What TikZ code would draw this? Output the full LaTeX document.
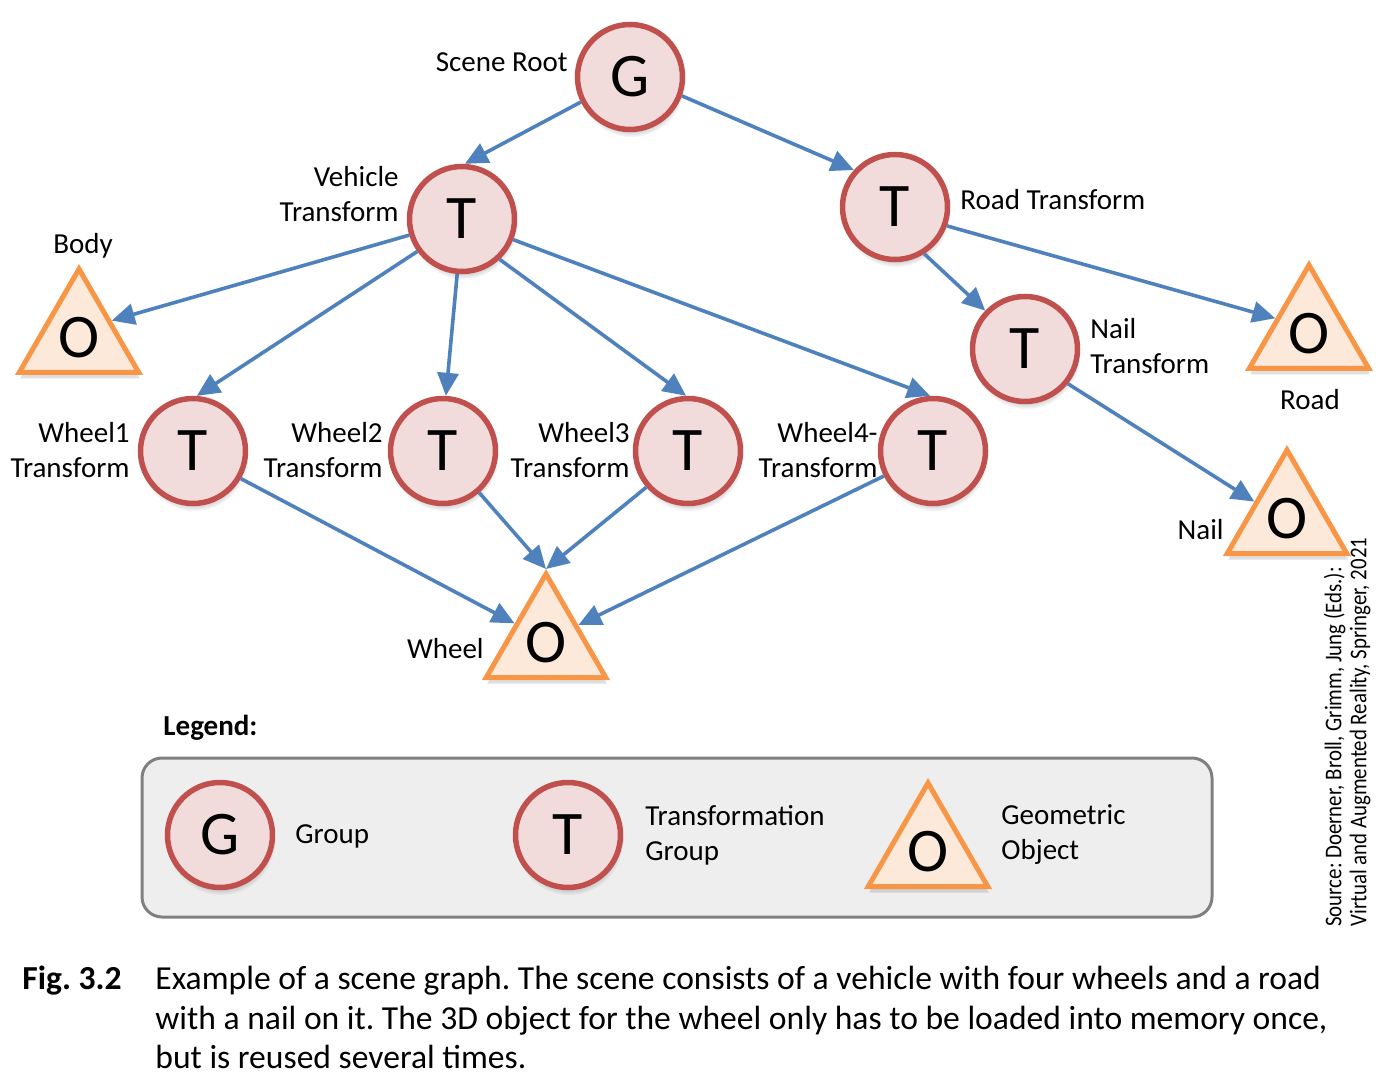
\documentclass[tikz,border=0pt]{standalone}
\usepackage{fontspec}
\setmainfont{Carlito}
\usepackage{graphicx}
\usetikzlibrary{arrows.meta, shapes.geometric, shadows, positioning}
\frenchspacing

\definecolor{tred}{HTML}{C0504D}
\definecolor{tpink}{HTML}{F2DCDB}
\definecolor{oorange}{HTML}{F79646}
\definecolor{opeach}{HTML}{FDE9D9}
\definecolor{linkblue}{HTML}{4F81BD}
\definecolor{boxgray}{HTML}{EEEEEE}
\definecolor{boxline}{HTML}{808080}

\begin{document}
\begin{tikzpicture}[
    x=0.5pt, y=-0.5pt,
    letter/.style={font=\fontsize{31}{31}\selectfont},
    groupnode/.style={circle, draw=tred, fill=tpink, line width=2.75pt,
        minimum size=52.5pt, inner sep=0pt, letter,
        circular drop shadow={shadow xshift=0.5pt, shadow yshift=-3pt,
            shadow scale=1.03, opacity=0.45}},
    objnode/.style={regular polygon, regular polygon sides=3, draw=oorange,
        fill=opeach, line width=2.5pt, minimum size=69pt, inner sep=0pt, letter,
        drop shadow={shadow xshift=0.5pt, shadow yshift=-3pt, opacity=0.25}},
    lbl/.style={font=\fontsize{14.5}{17.5}\selectfont, inner sep=0pt},
    link/.style={draw=linkblue, line width=1.8pt,
        -{Triangle[length=11.5pt,width=10.5pt]}},
    keybox/.style={draw=boxline, fill=boxgray, line width=1.5pt, rounded corners=10pt},
    caption/.style={font=\fontsize{16.8}{20}\selectfont, inner sep=0pt, anchor=base west}
]
\useasboundingbox (0,0) rectangle (1382,1091);

% Scene graph
\node[groupnode] (root) at (630,77) {G};
\node[groupnode] (veh) at (462,219) {T};
\node[groupnode] (roadT) at (895,207) {T};
\node[groupnode] (nailT) at (1025,349) {T};
\node[groupnode] (wheelA) at (193,451) {T};
\node[groupnode] (wheelB) at (443,451) {T};
\node[groupnode] (wheelC) at (688,451) {T};
\node[groupnode] (wheelD) at (933,451) {T};

% Geometric objects
\node[objnode] (body) at (79,338) {O};
\node[objnode] (road) at (1309,334) {O};
\node[objnode] (nail) at (1287,519) {O};
\node[objnode] (wheel) at (546,643) {O};

% Labels
\node[lbl, anchor=east] (rootlbl) at (568,62) {Scene Root};
\node[lbl, anchor=east, align=right] (vehlbl) at (399,194) {Vehicle\\Transform};
\node[lbl, anchor=west] (roadTlbl) at (960,200) {Road Transform};
\node[lbl] (bodylbl) at (83,246) {Body};
\node[lbl, anchor=west, align=left] (nailTlbl) at (1090,346) {Nail\\Transform};
\node[lbl] (roadlbl) at (1310,400) {Road};
\node[lbl, anchor=east, align=right] (wheelAlbl) at (130,450) {Wheel1\\Transform};
\node[lbl, anchor=east, align=right] (wheelBlbl) at (383,450) {Wheel2\\Transform};
\node[lbl, anchor=east, align=right] (wheelClbl) at (630,450) {Wheel3\\Transform};
\node[lbl, anchor=east, align=right] (wheelDlbl) at (878,450) {Wheel4-\\Transform};
\node[lbl, anchor=east] (naillbl) at (1224,530) {Nail};
\node[lbl, anchor=east] (wheellbl) at (484,649) {Wheel};

% Edges
\draw[link] (root.207) -- (veh.87);
\draw[link] (root.340) -- (roadT.138);
\draw[link] (veh.197) -- (body.28);
\draw[link] (veh.216) -- (wheelA.86);
\draw[link] (veh.265) -- (wheelB.87);
\draw[link] (veh.313) -- (wheelC.92);
\draw[link] (veh.338) -- (wheelD.93);
\draw[link] (roadT.302) -- (nailT.136);
\draw[link] (roadT.340) -- (road.155);
\draw[link] (nailT.321) -- (nail.152);
\draw[link] (wheelA.330) -- (wheel.148);
\draw[link] (wheelB.311) -- (wheel.corner 1);
\draw[link] (wheelC.221) -- (wheel.corner 1);
\draw[link] (wheelD.207) -- (wheel.29);

% Legend
\node[lbl, anchor=west, font=\fontsize{14.5}{17.5}\selectfont\bfseries] (keytitle) at (163,728) {Legend:};
\draw[keybox] (142,758) rectangle (1212,917);
\node[groupnode] (keyG) at (220,835) {G};
\node[groupnode] (keyT) at (568,835) {T};
\node[objnode] (keyO) at (928,852) {O};
\node[lbl, anchor=west] (keyGlbl) at (295,836) {Group};
\node[lbl, anchor=west, align=left] (keyTlbl) at (645,835) {Transformation\\Group};
\node[lbl, anchor=west, align=left] (keyOlbl) at (1001,835) {Geometric\\Object};

% Source
\node[rotate=90, anchor=south west, align=left, inner sep=0pt,
    font=\fontsize{12}{12.5}\selectfont] (source) at (1371,927)
    {\scalebox{0.87}[1]{Source: Doerner, Broll, Grimm, Jung (Eds.):}\\
     \scalebox{0.87}[1]{Virtual and Augmented Reality, Springer, 2021}};

% Caption
\node[caption, font=\fontsize{16.8}{20}\selectfont\bfseries] (fig) at (22,989) {Fig. 3.2};
\node[caption] (capA) at (155,989) {Example of a scene graph. The scene consists of a vehicle with four wheels and a road};
\node[caption] (capB) at (155,1029) {with a nail on it. The 3D object for the wheel only has to be loaded into memory once,};
\node[caption] (capC) at (155,1068) {but is reused several times.};

\end{tikzpicture}
\end{document}
